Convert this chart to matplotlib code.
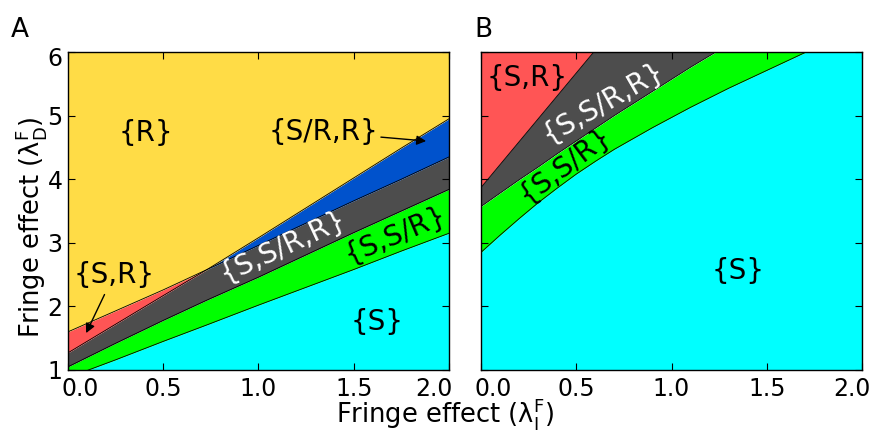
import matplotlib

matplotlib.use("Agg")
import matplotlib.pyplot as plt
import numpy as np
from matplotlib.transforms import ScaledTranslation

plt.rcParams["font.family"] = ["DejaVu Sans"]
plt.rcParams["mathtext.default"] = "regular"

# ---------------------------------------------------------------------------
# region boundaries (lambda_D value at each lambda_I)
# ---------------------------------------------------------------------------
# panel A
xa = [0.0, 0.25, 0.5, 0.73, 1.0, 1.25, 1.5, 1.75, 2.0]
a_cyan_top = [0.88, 1.16, 1.45, 1.71, 2.02, 2.30, 2.58, 2.87, 3.15]
a_green_top = [1.05, 1.42, 1.78, 2.10, 2.46, 2.81, 3.16, 3.50, 3.84]
a_gray_top = [1.27, 1.72, 2.17, 2.58, 2.96, 3.31, 3.66, 4.00, 4.35]
a_yellow_bottom = [1.60, 1.93, 2.26, 2.58, 3.08, 3.55, 4.02, 4.49, 4.95]
a_split = 0.73  # red wedge left of this, blue wedge right of it

# panel B
xb = [0.0, 0.1, 0.2, 0.3, 0.4, 0.5, 0.6, 0.7, 0.8, 0.9, 1.0,
      1.1, 1.2, 1.3, 1.4, 1.5, 1.6, 1.7, 1.8, 1.9, 2.0]
b_cyan_top = [2.85, 3.12, 3.38, 3.63, 3.86, 4.08, 4.28, 4.47, 4.64, 4.81,
              4.97, 5.13, 5.28, 5.43, 5.57, 5.71, 5.85, 5.99, 6.12, 6.24,
              6.36]
b_green_top = [3.57, 3.78, 3.99, 4.19, 4.40, 4.60, 4.80, 5.00, 5.19, 5.38,
               5.57, 5.76, 5.94, 6.12, 6.30, 6.47, 6.65, 6.82, 6.99, 7.15,
               7.32]
b_gray_top = [3.87, 4.23, 4.59, 4.95, 5.31, 5.67, 6.03, 6.39, 6.75, 7.11,
              7.47, 7.83, 8.19, 8.55, 8.91, 9.27, 9.63, 9.99, 10.35, 10.71,
              11.07]

YELLOW = "#FFDC46"
RED = "#FF5555"
BLUE = "#0052CC"
GRAY = "#4D4D4D"
GREEN = "#00FF00"
CYAN = "#00FFFF"

TICK_FS = 17
REGION_FS = 20
LABEL_FS = 18.5


def style_axes(ax, labels_y=True):
    ax.set_xlim(0, 2)
    ax.set_ylim(1, 6)
    ax.set_xticks([0.0, 0.5, 1.0, 1.5, 2.0])
    ax.set_xticklabels(["0.0", "0.5", "1.0", "1.5", "2.0"])
    ax.set_yticks([1, 2, 3, 4, 5, 6])
    ax.tick_params(direction="in", length=5, width=0.8, top=True, right=True,
                   labelsize=TICK_FS, pad=5, labelleft=labels_y)
    ax.tick_params(axis="y", pad=4)
    for s in ax.spines.values():
        s.set_linewidth(1.0)
        s.set_zorder(5)


def nudge(label, dx_px, dy_px=0):
    label.set_transform(label.get_transform() +
                        ScaledTranslation(dx_px / 100, dy_px / 100,
                                          fig.dpi_scale_trans))


fig = plt.figure(figsize=(8.73, 4.33), dpi=100)
axA = fig.add_axes([0.0779, 0.1455, 0.4364, 0.7344])
axB = fig.add_axes([0.5510, 0.1455, 0.4364, 0.7344])

# --- panel A ---------------------------------------------------------------
xa_ = np.array(xa)
axA.fill_between(xa, 0, a_cyan_top, color=CYAN, lw=0)
axA.fill_between(xa, a_cyan_top, a_green_top, color=GREEN, lw=0)
axA.fill_between(xa, a_green_top, a_gray_top, color=GRAY, lw=0)
axA.fill_between(xa, a_gray_top, a_yellow_bottom, where=xa_ <= a_split,
                 color=RED, lw=0)
axA.fill_between(xa, a_gray_top, a_yellow_bottom, where=xa_ >= a_split,
                 color=BLUE, lw=0)
axA.fill_between(xa, a_yellow_bottom, 7, color=YELLOW, lw=0)
for b in (a_cyan_top, a_green_top, a_gray_top, a_yellow_bottom):
    axA.plot(xa, b, color="k", lw=0.6)

axA.text(0.41, 4.73, "{R}", fontsize=REGION_FS, ha="center", va="center")
axA.text(1.62, 1.76, "{S}", fontsize=REGION_FS, ha="center", va="center")
axA.text(1.13, 2.94, "{S,S/R,R}", fontsize=REGION_FS, color="white",
         ha="center", va="center", rotation=25)
axA.text(1.72, 3.12, "{S,S/R}", fontsize=REGION_FS, ha="center",
         va="center", rotation=23)
axA.annotate("{S/R,R}", xy=(1.88, 4.60), xytext=(1.34, 4.74),
             fontsize=REGION_FS, ha="center", va="center",
             arrowprops=dict(arrowstyle="-|>", color="k", lw=1,
                             mutation_scale=14, shrinkA=0, shrinkB=0))
axA.annotate("{S,R}", xy=(0.095, 1.58), xytext=(0.24, 2.49),
             fontsize=REGION_FS, ha="center", va="center",
             arrowprops=dict(arrowstyle="-|>", color="k", lw=1,
                             mutation_scale=14, shrinkA=2, shrinkB=0))
style_axes(axA)

# --- panel B ---------------------------------------------------------------
axB.fill_between(xb, 0, b_cyan_top, color=CYAN, lw=0)
axB.fill_between(xb, b_cyan_top, b_green_top, color=GREEN, lw=0)
axB.fill_between(xb, b_green_top, b_gray_top, color=GRAY, lw=0)
axB.fill_between(xb, b_gray_top, 12, color=RED, lw=0)
for b in (b_cyan_top, b_green_top, b_gray_top):
    axB.plot(xb, b, color="k", lw=0.6)

axB.text(0.24, 5.59, "{S,R}", fontsize=REGION_FS, ha="center", va="center")
axB.text(1.35, 2.55, "{S}", fontsize=REGION_FS, ha="center", va="center")
axB.text(0.64, 5.21, "{S,S/R,R}", fontsize=REGION_FS, color="white",
         ha="center", va="center", rotation=30)
axB.text(0.44, 4.22, "{S,S/R}", fontsize=REGION_FS, ha="center",
         va="center", rotation=37)
style_axes(axB, labels_y=False)

# first/last x tick labels sit pulled in towards the panel centre
for ax, right_shift in ((axA, -15), (axB, -10)):
    ticks = ax.xaxis.get_major_ticks()
    nudge(ticks[0].label1, 12)
    nudge(ticks[-1].label1, right_shift)
nudge(axA.yaxis.get_major_ticks()[-1].label1, 0, -4)

# --- labels ------------------------------------------------------------------
fig.text(0.51, 0.024, r"Fringe effect ($\lambda^{F}_{I}$)", fontsize=LABEL_FS,
         ha="center", va="baseline")
fig.text(0.036, 0.475, r"Fringe effect ($\lambda^{F}_{D}$)",
         fontsize=LABEL_FS, ha="center", va="center", rotation=90)
fig.text(0.012, 0.915, "A", fontsize=19, ha="left", va="baseline")
fig.text(0.543, 0.915, "B", fontsize=19, ha="left", va="baseline")

fig.savefig("out.png", dpi=100)
